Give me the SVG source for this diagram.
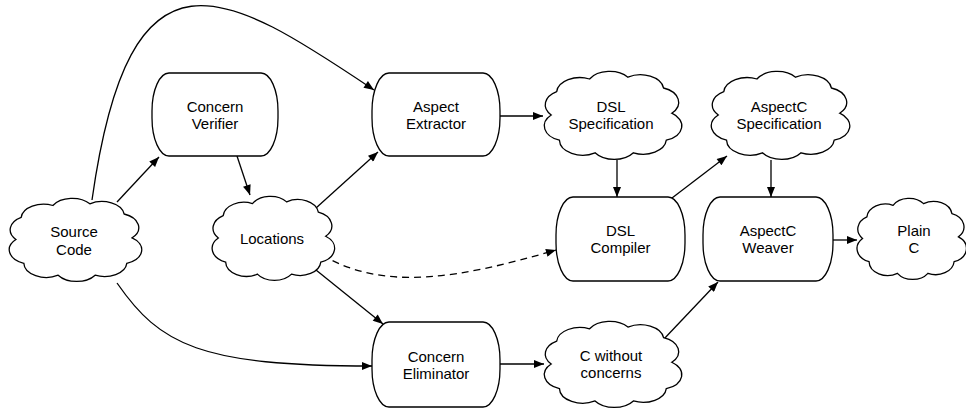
<svg xmlns="http://www.w3.org/2000/svg" xmlns:xlink="http://www.w3.org/1999/xlink" width="966" height="410" viewBox="0 0 966 410">
  <style>
    .term { fill: #fff; stroke: #000; stroke-width: 1.3; }
    .cloud { fill: #fff; stroke: #000; stroke-width: 1.3; vector-effect: non-scaling-stroke; }
    .edge { fill: none; stroke: #000; stroke-width: 1.3; marker-end: url(#arrow); }
    .dashed { stroke-dasharray: 7 5; }
    text { font-family: "Liberation Sans", Helvetica, Arial, sans-serif; font-size: 15px; fill: #000; text-anchor: middle; }
  </style>
  <defs>
    <marker id="arrow" viewBox="0 0 10 8" refX="10" refY="4" markerWidth="11" markerHeight="8" markerUnits="userSpaceOnUse" orient="auto">
      <path d="M0,0 L10,4 L0,8 Z" fill="#000"/>
    </marker>
    <!-- cloud outline in a 100x100 box -->
    <path id="cloudShape" class="cloud" d="M6,50 A17,17 0 0 1 10,24 A17,17 0 0 1 34,10 A17,17 0 0 1 62,8 A17,17 0 0 1 88,20 A17,17 0 0 1 94,48 A17,17 0 0 1 90,78 A17,17 0 0 1 66,92 A17,17 0 0 1 38,92 A17,17 0 0 1 12,78 A17,17 0 0 1 6,50 Z"/>
  </defs>
  <rect width="966" height="410" fill="#fff"/>

  <g id="connectors">
    <path class="edge" d="M117,202 L159,157"/>
    <path class="edge" d="M92,200 C130,-70 225,-10 374,90"/>
    <path class="edge" d="M117,283 C160,345 200,366 372,366"/>
    <path class="edge" d="M237,156 L250,195"/>
    <path class="edge" d="M316,208 L378,152"/>
    <path class="edge dashed" d="M322,255 C385,292 460,278 556,250"/>
    <path class="edge" d="M316,270 L383,324"/>
    <path class="edge" d="M500,116 L543,116"/>
    <path class="edge" d="M617,160 L617,197"/>
    <path class="edge" d="M672,198 L727,156"/>
    <path class="edge" d="M771,160 L771,197"/>
    <path class="edge" d="M663,340 L718,282"/>
    <path class="edge" d="M833,240 L857,240"/>
    <path class="edge" d="M500,364 L544,364"/>
  </g>

  <g id="source-code">
    <use xlink:href="#cloudShape" transform="translate(8,197) scale(1.32,0.85)"/>
    <text x="74" y="237">Source</text>
    <text x="74" y="255">Code</text>
  </g>
  <g id="concern-verifier">
    <rect class="term" x="152" y="73" width="126" height="83" rx="17" ry="38"/>
    <text x="215" y="111.5">Concern</text>
    <text x="215" y="128.5">Verifier</text>
  </g>
  <g id="locations">
    <use xlink:href="#cloudShape" transform="translate(211,195) scale(1.22,0.86)"/>
    <text x="272" y="244">Locations</text>
  </g>
  <g id="aspect-extractor">
    <rect class="term" x="372" y="73" width="128" height="83" rx="17" ry="38"/>
    <text x="436" y="111.5">Aspect</text>
    <text x="436" y="128.5">Extractor</text>
  </g>
  <g id="concern-eliminator">
    <rect class="term" x="372" y="322" width="128" height="85" rx="17" ry="38"/>
    <text x="436" y="361.5">Concern</text>
    <text x="436" y="378.5">Eliminator</text>
  </g>
  <g id="dsl-specification">
    <use xlink:href="#cloudShape" transform="translate(543,70) scale(1.37,0.9)"/>
    <text x="611" y="112">DSL</text>
    <text x="611" y="129">Specification</text>
  </g>
  <g id="dsl-compiler">
    <rect class="term" x="556" y="197" width="129" height="84" rx="17" ry="38"/>
    <text x="620.5" y="236">DSL</text>
    <text x="620.5" y="253">Compiler</text>
  </g>
  <g id="aspectc-specification">
    <use xlink:href="#cloudShape" transform="translate(710,70) scale(1.38,0.9)"/>
    <text x="779" y="112">AspectC</text>
    <text x="779" y="129">Specification</text>
  </g>
  <g id="aspectc-weaver">
    <rect class="term" x="703" y="197" width="130" height="84" rx="17" ry="38"/>
    <text x="768" y="236">AspectC</text>
    <text x="768" y="253">Weaver</text>
  </g>
  <g id="c-without-concerns">
    <use xlink:href="#cloudShape" transform="translate(543,320) scale(1.37,0.88)"/>
    <text x="611" y="361">C without</text>
    <text x="611" y="378">concerns</text>
  </g>
  <g id="plain-c">
    <use xlink:href="#cloudShape" transform="translate(856,197) scale(1.09,0.83)"/>
    <text x="914" y="236">Plain</text>
    <text x="914" y="253">C</text>
  </g>
</svg>
